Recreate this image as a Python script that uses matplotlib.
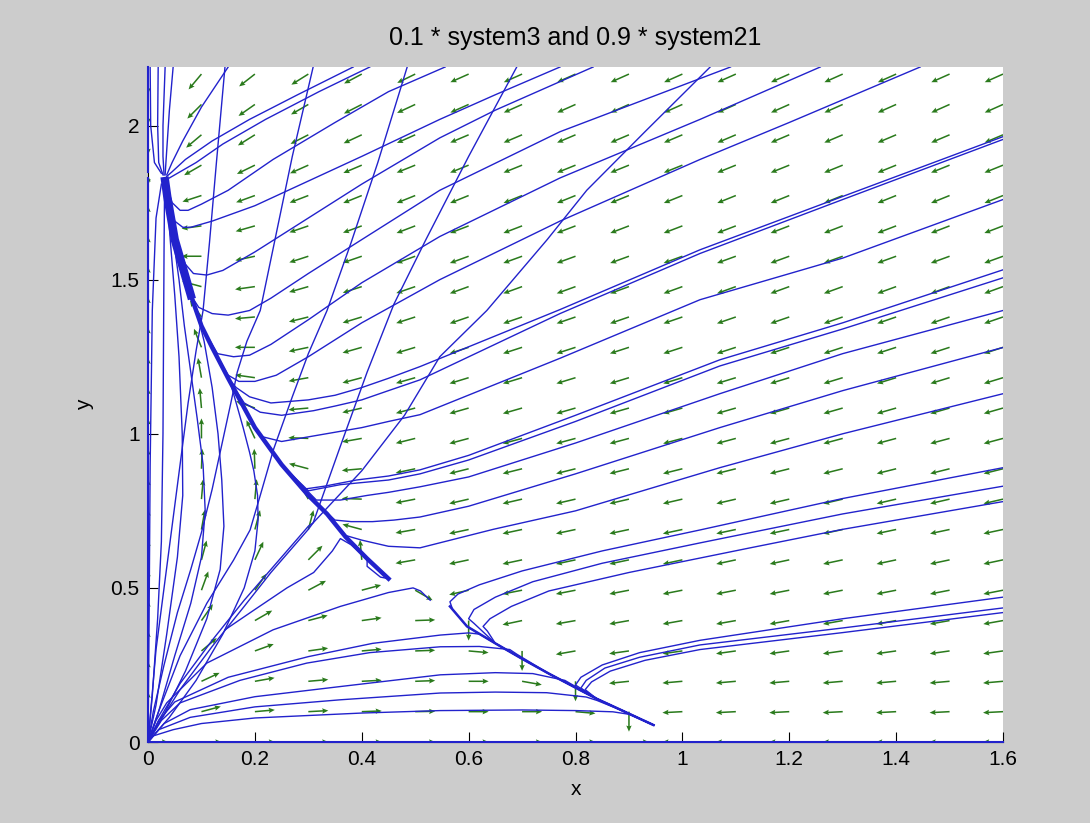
import matplotlib.pyplot as plt
import numpy as np

TITLE = "0.1 * system3 and 0.9 * system21"
X_LABEL = "x"
Y_LABEL = "y"
X_LIMITS = (0, 1.6)
Y_LIMITS = (0, 2.19)
X_TICKS = [0, 0.2, 0.4, 0.6, 0.8, 1.0, 1.2, 1.4, 1.6]
X_TICK_LABELS = ["0", "0.2", "0.4", "0.6", "0.8", "1", "1.2", "1.4", "1.6"]
Y_TICKS = [0, 0.5, 1.0, 1.5, 2.0]
Y_TICK_LABELS = ["0", "0.5", "1", "1.5", "2"]

# direction field: grid positions and arrow angles (degrees on screen)
ARROW_X = [0.0, 0.1, 0.2, 0.3, 0.4, 0.5, 0.6, 0.7, 0.8, 0.9, 1.0, 1.1, 1.2, 1.3, 1.4, 1.5, 1.6]
ARROW_Y = [0.0, 0.0985, 0.197, 0.2955, 0.394, 0.4925, 0.591, 0.6895, 0.788, 0.8865, 0.985, 1.0835,
           1.182, 1.2805, 1.379, 1.4775, 1.576, 1.6745, 1.773, 1.8715, 1.97, 2.0685, 2.167]
ARROW_ANGLE = [
    [0, 0, 0, 0, 0, 0, 0, 0, 0, 0, 180, 180, 180, 180, 180, 180, 180],
    [90, 15, 5, 3, 2, 1, 0, 0, 355, 270, 183, 183, 183, 183, 183, 183, 183],
    [90, 25, 10, 5, 3, 2, 0, 350, 270, 186, 185, 185, 185, 185, 185, 185, 185],
    [90, 40, 20, 8, 5, 2, 355, 270, 190, 188, 188, 188, 188, 188, 188, 188, 188],
    [90, 55, 30, 15, 8, 2, 270, 192, 190, 190, 190, 190, 190, 190, 190, 190, 190],
    [90, 70, 55, 28, 15, 330, 193, 191, 191, 191, 191, 191, 191, 191, 191, 191, 191],
    [90, 75, 65, 45, 95, 190, 192, 192, 192, 192, 192, 192, 192, 192, 192, 192, 192],
    [90, 80, 75, 75, 165, 190, 192, 192, 192, 192, 192, 192, 192, 192, 192, 192, 192],
    [90, 85, 85, 120, 178, 191, 193, 193, 193, 193, 193, 193, 193, 193, 193, 193, 193],
    [90, 88, 92, 165, 185, 192, 194, 194, 194, 194, 194, 194, 194, 194, 194, 194, 194],
    [90, 90, 115, 178, 190, 194, 195, 195, 195, 195, 195, 195, 195, 195, 195, 195, 195],
    [90, 95, 160, 185, 193, 195, 196, 196, 196, 196, 196, 196, 196, 196, 196, 196, 196],
    [90, 100, 172, 190, 195, 196, 197, 197, 197, 197, 197, 197, 197, 197, 197, 197, 197],
    [90, 112, 180, 192, 196, 197, 198, 198, 198, 198, 198, 198, 198, 198, 198, 198, 198],
    [90, 125, 185, 194, 197, 198, 199, 199, 199, 199, 199, 199, 199, 199, 199, 199, 199],
    [90, 165, 188, 196, 198, 199, 200, 200, 200, 200, 200, 200, 200, 200, 200, 200, 200],
    [90, 180, 192, 198, 199, 200, 200, 200, 200, 200, 200, 200, 200, 200, 200, 200, 200],
    [90, 188, 196, 199, 200, 201, 201, 201, 201, 201, 201, 201, 201, 201, 201, 201, 201],
    [90, 198, 200, 201, 202, 202, 202, 202, 202, 202, 202, 202, 202, 202, 202, 202, 202],
    [270, 210, 206, 204, 203, 202, 202, 202, 202, 202, 202, 202, 202, 202, 202, 202, 202],
    [270, 220, 212, 207, 205, 204, 203, 203, 203, 203, 203, 203, 203, 203, 203, 203, 203],
    [270, 225, 215, 210, 207, 205, 204, 204, 204, 204, 204, 204, 204, 204, 204, 204, 204],
    [270, 230, 218, 212, 208, 206, 204, 204, 204, 204, 204, 204, 204, 204, 204, 204, 204],
]

# attracting curves (solutions pile up along them)
UPPER_CURVE = [(0.45, 0.53), (0.41, 0.595), (0.37, 0.665), (0.335, 0.74), (0.30, 0.80), (0.25, 0.90),
               (0.20, 1.02), (0.15, 1.18), (0.12, 1.28), (0.10, 1.35), (0.08, 1.45), (0.065, 1.54),
               (0.05, 1.63), (0.042, 1.71), (0.036, 1.77), (0.032, 1.82)]
LOWER_CURVE = [(0.565, 0.44), (0.597, 0.375), (0.65, 0.32), (0.70, 0.27), (0.75, 0.222),
               (0.796, 0.18), (0.84, 0.14), (0.89, 0.10), (0.946, 0.055)]

# solutions that run into the upper curve
TO_UPPER = [
    # fan from the origin, bowing right
    [(0, 0), (0.015, 0.12), (0.035, 0.35), (0.055, 0.6), (0.065, 0.8), (0.064, 1.0), (0.058, 1.25),
     (0.05, 1.45), (0.042, 1.62), (0.036, 1.76)],
    [(0, 0), (0.02, 0.1), (0.05, 0.28), (0.08, 0.45), (0.1, 0.6), (0.107, 0.75), (0.103, 0.9),
     (0.092, 1.05), (0.08, 1.2), (0.068, 1.35), (0.058, 1.5), (0.05, 1.6)],
    [(0, 0), (0.03, 0.09), (0.07, 0.23), (0.11, 0.4), (0.135, 0.56), (0.142, 0.7), (0.138, 0.85),
     (0.131, 1.0), (0.12, 1.15), (0.105, 1.3), (0.092, 1.39)],
    [(0, 0), (0.04, 0.08), (0.09, 0.2), (0.14, 0.35), (0.18, 0.5), (0.2, 0.62), (0.206, 0.72),
     (0.205, 0.8), (0.198, 0.88), (0.19, 0.94), (0.178, 1.02), (0.165, 1.1), (0.155, 1.16)],
    # from the right edge
    [(1.6, 1.964), (1.3, 1.77), (1.033, 1.597), (0.771, 1.403), (0.509, 1.218), (0.45, 1.18),
     (0.40, 1.15), (0.35, 1.125), (0.30, 1.11), (0.23, 1.10), (0.19, 1.12), (0.165, 1.15)],
    [(1.6, 1.955), (1.3, 1.76), (1.033, 1.585), (0.771, 1.39), (0.509, 1.175), (0.45, 1.14),
     (0.40, 1.11), (0.35, 1.09), (0.31, 1.075), (0.25, 1.06), (0.21, 1.07), (0.18, 1.10)],
    [(1.6, 1.76), (1.3, 1.57), (1.033, 1.435), (0.771, 1.245), (0.509, 1.062), (0.45, 1.04),
     (0.40, 1.02), (0.35, 1.005), (0.30, 0.99), (0.25, 0.975), (0.215, 0.99)],
    [(1.6, 1.532), (1.3, 1.36), (1.07, 1.24), (0.8, 1.06), (0.6, 0.93), (0.509, 0.883),
     (0.45, 0.863), (0.39, 0.85), (0.33, 0.83), (0.29, 0.82)],
    [(1.6, 1.506), (1.3, 1.34), (1.07, 1.22), (0.8, 1.04), (0.6, 0.915), (0.509, 0.87),
     (0.45, 0.85), (0.36, 0.835), (0.30, 0.815)],
    [(1.6, 1.40), (1.3, 1.26), (1.07, 1.13), (0.8, 0.97), (0.6, 0.86), (0.509, 0.828),
     (0.45, 0.81), (0.41, 0.80), (0.36, 0.785), (0.315, 0.785)],
    [(1.6, 1.28), (1.3, 1.14), (1.07, 1.02), (0.8, 0.87), (0.6, 0.765), (0.509, 0.73),
     (0.46, 0.72), (0.42, 0.715), (0.38, 0.715), (0.35, 0.72)],
    [(1.6, 1.13), (1.3, 1.00), (1.07, 0.89), (0.8, 0.75), (0.646, 0.69), (0.509, 0.63),
     (0.45, 0.635), (0.40, 0.655), (0.37, 0.67)],
    # from the top edge
    [(1.445, 2.19), (1.2, 2.01), (1.033, 1.89), (0.771, 1.69), (0.546, 1.50), (0.40, 1.36),
     (0.30, 1.25), (0.24, 1.19), (0.20, 1.17), (0.17, 1.17), (0.15, 1.19)],
    [(1.258, 2.19), (1.033, 2.02), (0.771, 1.83), (0.546, 1.64), (0.40, 1.49), (0.30, 1.37),
     (0.23, 1.29), (0.19, 1.255), (0.16, 1.25), (0.13, 1.26)],
    [(1.09, 2.19), (0.771, 1.98), (0.546, 1.79), (0.40, 1.63), (0.30, 1.52), (0.23, 1.44),
     (0.19, 1.40), (0.15, 1.385), (0.12, 1.39), (0.095, 1.41)],
    [(0.833, 2.19), (0.65, 2.05), (0.546, 1.96), (0.40, 1.81), (0.30, 1.70), (0.20, 1.59),
     (0.14, 1.53), (0.11, 1.515), (0.085, 1.52), (0.07, 1.55)],
    [(0.771, 2.19), (0.65, 2.10), (0.546, 2.02), (0.40, 1.90), (0.30, 1.82), (0.20, 1.74),
     (0.12, 1.69), (0.08, 1.67), (0.065, 1.67), (0.05, 1.69)],
    [(0.556, 2.19), (0.45, 2.11), (0.35, 2.01), (0.234, 1.89), (0.15, 1.79), (0.10, 1.745),
     (0.075, 1.725), (0.06, 1.725), (0.045, 1.75)],
    # starts near the lower left and bends back along the curve
    [(0.144, 0.364), (0.2, 0.43), (0.26, 0.5), (0.31, 0.55), (0.345, 0.62), (0.36, 0.66),
     (0.38, 0.64), (0.42, 0.58), (0.45, 0.53), (0.435, 0.535), (0.41, 0.57)],
]

# solutions that run into the lower curve
TO_LOWER = [
    # flat fan from the origin
    [(0, 0), (0.01, 0.02), (0.047, 0.04), (0.1, 0.06), (0.2, 0.078), (0.4, 0.094), (0.547, 0.102),
     (0.7, 0.104), (0.8, 0.102), (0.87, 0.098), (0.9, 0.09)],
    [(0, 0), (0.02, 0.04), (0.079, 0.08), (0.2, 0.114), (0.36, 0.137), (0.547, 0.159), (0.65, 0.162),
     (0.746, 0.16), (0.82, 0.146), (0.84, 0.135)],
    [(0, 0), (0.03, 0.06), (0.079, 0.105), (0.2, 0.147), (0.36, 0.18), (0.547, 0.218), (0.65, 0.225),
     (0.72, 0.222), (0.78, 0.20), (0.795, 0.185)],
    [(0, 0), (0.025, 0.07), (0.06, 0.127), (0.172, 0.2), (0.297, 0.256), (0.415, 0.29),
     (0.547, 0.309), (0.62, 0.31), (0.677, 0.30), (0.69, 0.285)],
    [(0, 0), (0.02, 0.07), (0.05, 0.13), (0.15, 0.21), (0.30, 0.277), (0.42, 0.32), (0.547, 0.347),
     (0.6, 0.354), (0.62, 0.35), (0.635, 0.335)],
    # hooks coming in from the right edge
    [(1.6, 0.89), (1.3, 0.79), (1.033, 0.688), (0.85, 0.62), (0.70, 0.555), (0.62, 0.51),
     (0.58, 0.48), (0.565, 0.455), (0.57, 0.43)],
    [(1.6, 0.83), (1.3, 0.74), (1.033, 0.646), (0.85, 0.58), (0.72, 0.52), (0.65, 0.47),
     (0.61, 0.43), (0.60, 0.40), (0.61, 0.385)],
    [(1.6, 0.78), (1.3, 0.69), (1.127, 0.63), (0.9, 0.55), (0.75, 0.49), (0.68, 0.44),
     (0.64, 0.40), (0.627, 0.375), (0.635, 0.36)],
    [(1.6, 0.47), (1.3, 0.40), (1.033, 0.33), (0.92, 0.29), (0.85, 0.25), (0.81, 0.21), (0.80, 0.185)],
    [(1.6, 0.435), (1.3, 0.37), (1.033, 0.315), (0.92, 0.275), (0.855, 0.24), (0.82, 0.20),
     (0.81, 0.175)],
    [(1.6, 0.42), (1.3, 0.355), (1.033, 0.30), (0.93, 0.265), (0.865, 0.23), (0.83, 0.195),
     (0.818, 0.17)],
]

# solutions drawn as they are
OTHER = [
    # steep branches leaving the origin fan
    [(0, 0), (0.02, 0.06), (0.06, 0.17), (0.12, 0.31), (0.18, 0.44), (0.23, 0.55), (0.27, 0.63),
     (0.30, 0.69), (0.309, 0.711), (0.40, 0.88), (0.48, 1.06), (0.546, 1.25), (0.634, 1.40),
     (0.747, 1.63), (0.821, 1.79), (0.93, 1.98), (1.052, 2.19)],
    [(0, 0), (0.02, 0.07), (0.06, 0.19), (0.12, 0.33), (0.18, 0.46), (0.23, 0.56), (0.27, 0.64),
     (0.30, 0.70), (0.309, 0.711), (0.36, 0.96), (0.41, 1.2), (0.46, 1.42), (0.52, 1.63),
     (0.60, 1.90), (0.69, 2.19)],
    [(0, 0), (0.02, 0.1), (0.06, 0.28), (0.11, 0.45), (0.16, 0.59), (0.191, 0.688), (0.21, 0.80),
     (0.235, 0.95), (0.27, 1.12), (0.30, 1.26), (0.335, 1.40), (0.38, 1.62), (0.43, 1.88),
     (0.485, 2.19)],
    [(0, 0), (0.01, 0.1), (0.03, 0.25), (0.055, 0.42), (0.08, 0.56), (0.10, 0.68), (0.12, 0.82),
     (0.14, 0.98), (0.155, 1.10), (0.167, 1.20), (0.185, 1.30), (0.21, 1.40), (0.24, 1.65),
     (0.27, 1.90), (0.309, 2.19)],
    [(0, 0), (0.005, 0.1), (0.015, 0.3), (0.03, 0.5), (0.045, 0.7), (0.06, 0.9), (0.075, 1.1),
     (0.09, 1.27), (0.103, 1.40), (0.115, 1.62), (0.128, 1.88), (0.144, 2.19)],
    # close to the y axis
    [(0, 0), (0.002, 0.4), (0.004, 0.9), (0.008, 1.4), (0.015, 1.7), (0.025, 1.81)],
    [(0, 0), (0.008, 0.15), (0.018, 0.4), (0.025, 0.65), (0.028, 1.0), (0.029, 1.3), (0.03, 1.6),
     (0.031, 1.8)],
    # peak that turns back near the saddle
    [(0, 0), (0.015, 0.07), (0.035, 0.127), (0.11, 0.256), (0.234, 0.364), (0.36, 0.44),
     (0.45, 0.485), (0.496, 0.50), (0.51, 0.49), (0.528, 0.46)],
    # from the top edge straight into the equilibrium
    [(0.415, 2.19), (0.32, 2.11), (0.22, 2.02), (0.14, 1.94), (0.09, 1.88), (0.055, 1.845), (0.04, 1.83)],
    [(0.384, 2.19), (0.28, 2.10), (0.19, 2.02), (0.12, 1.95), (0.07, 1.89), (0.045, 1.85), (0.035, 1.835)],
    [(0.15, 2.19), (0.1, 2.06), (0.065, 1.95), (0.045, 1.88), (0.035, 1.84)],
    [(0.047, 2.19), (0.04, 2.05), (0.035, 1.92), (0.032, 1.84)],
    [(0.032, 2.19), (0.028, 2.0), (0.028, 1.9), (0.03, 1.84)],
    [(0.019, 2.19), (0.018, 2.0), (0.02, 1.88), (0.028, 1.84)],
    [(0.004, 2.19), (0.005, 2.0), (0.012, 1.88), (0.025, 1.845)],
]

AXIS_SOLUTIONS = [
    [(0, 0), (1.6, 0)],
    [(0, 0), (0, 1.83)],
    [(0, 2.19), (0, 1.85)],
]

BLUE = "#2222cc"
GREEN = "#2a7a1c"
FIG_BG = "#cccccc"

plt.rcParams["font.family"] = ["Liberation Sans", "DejaVu Sans"]
plt.rcParams["font.size"] = 15

fig = plt.figure(figsize=(10.9, 8.23), dpi=100, facecolor=FIG_BG)
ax = fig.add_axes([0.1358, 0.0984, 0.7844, 0.8202])
ax.set_facecolor("white")

gx, gy = np.meshgrid(ARROW_X, ARROW_Y)
ang = np.array(ARROW_ANGLE, dtype=float)
ax.quiver(gx, gy, np.ones_like(ang), np.zeros_like(ang), angles=ang,
          scale_units="inches", scale=5, pivot="tail", color=GREEN,
          width=0.0018, headwidth=3.5, headlength=4, headaxislength=3.5, zorder=2)


def plot_path(points, **kw):
    xs, ys = zip(*points)
    ax.plot(xs, ys, color=BLUE, zorder=3, solid_joinstyle="round", **kw)


for path in TO_UPPER:
    y_end = path[-1][1]
    plot_path(path + [p for p in UPPER_CURVE if p[1] > y_end + 0.02], lw=1.0)

for path in TO_LOWER:
    y_end = path[-1][1]
    plot_path(path + [p for p in LOWER_CURVE if p[1] < y_end - 0.02], lw=1.0)

for path in OTHER:
    plot_path(path, lw=1.0)

# the crowded part of the upper curve next to the equilibrium looks thicker
plot_path(UPPER_CURVE, lw=3.2)
plot_path([p for p in UPPER_CURVE if p[1] >= 1.45], lw=6.0)
plot_path(LOWER_CURVE, lw=1.8)

for path in AXIS_SOLUTIONS:
    xs, ys = zip(*path)
    ax.plot(xs, ys, color=BLUE, lw=1.5, zorder=4, clip_on=False)

ax.set_xlim(*X_LIMITS)
ax.set_ylim(*Y_LIMITS)
ax.set_xticks(X_TICKS, X_TICK_LABELS)
ax.set_yticks(Y_TICKS, Y_TICK_LABELS)
ax.tick_params(direction="in", length=7, width=0.8, pad=6)
ax.spines[["top", "right"]].set_visible(False)
ax.set_xlabel(X_LABEL, labelpad=8)
ax.set_ylabel(Y_LABEL, labelpad=12)
ax.set_title(TITLE, pad=16)

fig.savefig("out.png", dpi=100, facecolor=FIG_BG)
